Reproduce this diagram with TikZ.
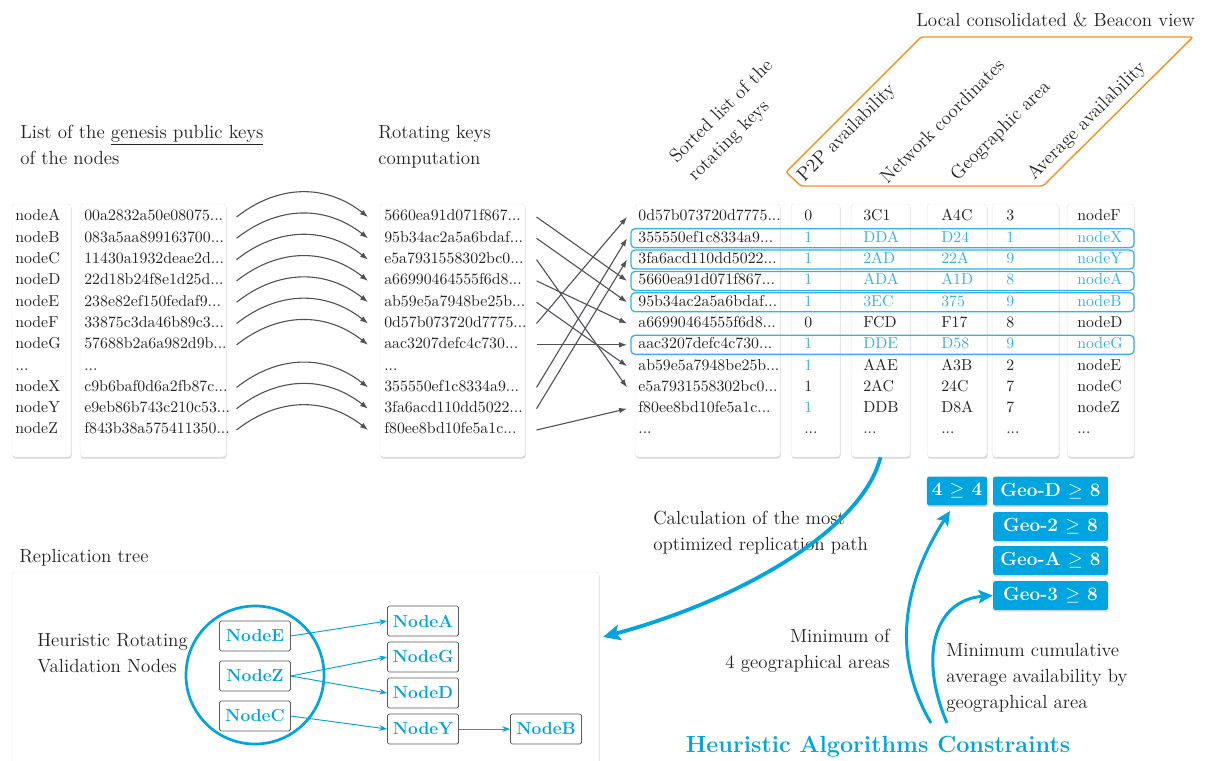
\documentclass[tikz,border=0pt]{standalone}
\usetikzlibrary{arrows.meta,shadows,fit,calc}
\definecolor{myblue}{RGB}{0,164,222}
\definecolor{lblue}{RGB}{52,178,230}
\definecolor{txt}{RGB}{35,35,35}
\definecolor{agray}{RGB}{80,82,88}
\definecolor{orng}{RGB}{245,146,32}
\newcommand{\tdots}{...}
\begin{document}
\begin{tikzpicture}[x=0.6325pt,y=-0.6325pt,
  panel/.style={fill=white, draw=black!10, line width=0.3pt, rounded corners=2pt, inner sep=0pt,
     drop shadow={shadow xshift=0.4pt, shadow yshift=-1pt, opacity=0.28, fill=black!60}},
  lt/.style={font=\fontsize{10}{12}\selectfont, text=txt, inner sep=0pt, anchor=west, text height=7pt, text depth=2pt},
  gk/.style={lt, text width=96.1pt},
  rk/.style={lt, inner xsep=10.1pt, text width=86pt},
  sk/.style={lt, inner xsep=7pt, text width=82pt},
  head/.style={font=\fontsize{12}{16.4}\selectfont, text=txt, inner sep=0pt, align=left},
  garrow/.style={draw=agray, line width=0.7pt, -{Latex[length=5pt,width=3.6pt]}},
  hl/.style={draw=lblue, line width=0.8pt, rounded corners=2.5pt},
  bbox/.style={fill=myblue, text=white, font=\fontsize{12}{14}\bfseries\selectfont, rounded corners=1.5pt, inner sep=0pt, minimum height=18.3pt,
     drop shadow={shadow xshift=0.4pt, shadow yshift=-1pt, opacity=0.25, fill=black!60}},
  rnode/.style={draw=black!65, line width=0.5pt, rounded corners=1pt, fill=white, text=myblue, font=\fontsize{11}{13}\bfseries\selectfont, minimum width=44.9pt, minimum height=19pt, inner sep=0pt},
  tarrow/.style={draw=myblue, line width=0.6pt, -{Stealth[length=5pt,width=3.6pt]}},
  barrow/.style={draw=myblue, line width=2.4pt, -{Stealth[length=11pt,width=10pt,inset=2.5pt]}},
  uarrow/.style={draw=myblue, line width=1.9pt, -{Stealth[length=9pt,width=8.5pt,inset=2pt]}},
]
\useasboundingbox (0,0) rectangle (1207,760);
\clip (0,0) rectangle (1207,760);

% panels
\node[panel, fit={(12,204) (71,457)}] (pnames) {};
\node[panel, fit={(80,204) (226,457)}] (pgen) {};
\node[panel, fit={(380,204) (525,457)}] (prot) {};
\node[panel, fit={(635,204) (780,457)}] (psort) {};
\node[panel, fit={(791,204) (840,457)}] (pp2p) {};
\node[panel, fit={(851,204) (910,457)}] (pnet) {};
\node[panel, fit={(927,204) (987,457)}] (pgeo) {};
\node[panel, fit={(992,204) (1059,457)}] (pavg) {};
\node[panel, fit={(1067,204) (1134,457)}] (pnod) {};
\node[panel, fit={(12,572) (599,800)}] (ptree) {};

% headings
\node[head, anchor=west] (h1) at (20,145) {List of the \underline{genesis public keys}\\of the nodes};
\node[head, anchor=west] (h2) at (378,147) {Rotating keys\\computation};
\node[head, anchor=west] (h3) at (916,20) {Local consolidated \& Beacon view};
\node[head, rotate=45, anchor=center] (h4) at (731,121) {Sorted list of the\\rotating keys};
\node[head, rotate=45, anchor=center] (c1) at (847,133) {P2P availability};
\node[head, rotate=45, anchor=center] (c2) at (942,121) {Network coordinates};
\node[head, rotate=45, anchor=center] (c3) at (1001,131) {Geographic area};
\node[head, rotate=45, anchor=center] (c4) at (1087,121) {Average availability};
\draw[orng, line width=0.9pt, rounded corners=1.5pt] (921,37) -- (1193,37) -- (1043,186) -- (801,186) -- (786,172) -- cycle;

% highlight boxes
\foreach \i in {1,2,3,4,6}
  \draw[hl] (631,{217+21.3*\i-9.5}) rectangle (1134,{217+21.3*\i+9.5});

% lists
\foreach \t [count=\i from 0] in {nodeA,nodeB,nodeC,nodeD,nodeE,nodeF,nodeG,\tdots,nodeX,nodeY,nodeZ}
  \node[lt] (n\i) at (15,{217+21.3*\i}) {\t};
\foreach \t [count=\i from 0] in {00a2832a50e08075\tdots,083a5aa899163700\tdots,11430a1932deae2d\tdots,22d18b24f8e1d25d\tdots,238e82ef150fedaf9\tdots,33875c3da46b89c3\tdots,57688b2a6a982d9b\tdots,\tdots,c9b6baf0d6a2fb87c\tdots,e9eb86b743c210c53\tdots,f843b38a575411350\tdots}
  \node[gk] (g\i) at (84,{217+21.3*\i}) {\t};
\foreach \t [count=\i from 0] in {5660ea91d071f867\tdots,95b34ac2a5a6bdaf\tdots,e5a7931558302bc0\tdots,a66990464555f6d8\tdots,ab59e5a7948be25b\tdots,0d57b073720d7775\tdots,aac3207defc4c730\tdots,\tdots,355550ef1c8334a9\tdots,3fa6acd110dd5022\tdots,f80ee8bd10fe5a1c\tdots}
  \node[rk] (r\i) at (368,{217+21.3*\i}) {\t};
\foreach \t [count=\i from 0] in {0d57b073720d7775\tdots,355550ef1c8334a9\tdots,3fa6acd110dd5022\tdots,5660ea91d071f867\tdots,95b34ac2a5a6bdaf\tdots,a66990464555f6d8\tdots,aac3207defc4c730\tdots,ab59e5a7948be25b\tdots,e5a7931558302bc0\tdots,f80ee8bd10fe5a1c\tdots,\tdots}
  \node[sk] (s\i) at (627,{217+21.3*\i}) {\t};

\foreach \t/\c [count=\i from 0] in {0/txt,1/lblue,1/lblue,1/lblue,1/lblue,0/txt,1/lblue,1/lblue,1/txt,1/lblue,\tdots/txt}
  \node[lt, text=\c] (ca\i) at (804,{217+21.3*\i}) {\t};
\foreach \t/\c [count=\i from 0] in {3C1/txt,DDA/lblue,2AD/lblue,ADA/lblue,3EC/lblue,FCD/txt,DDE/lblue,AAE/txt,2AC/txt,DDB/txt,\tdots/txt}
  \node[lt, text=\c] (cb\i) at (863,{217+21.3*\i}) {\t};
\foreach \t/\c [count=\i from 0] in {A4C/txt,D24/lblue,22A/lblue,A1D/lblue,375/lblue,F17/txt,D58/lblue,A3B/txt,24C/txt,D8A/txt,\tdots/txt}
  \node[lt, text=\c] (cc\i) at (941,{217+21.3*\i}) {\t};
\foreach \t/\c [count=\i from 0] in {3/txt,1/lblue,9/lblue,8/lblue,9/lblue,8/txt,9/lblue,2/txt,7/txt,7/txt,\tdots/txt}
  \node[lt, text=\c] (cd\i) at (1006,{217+21.3*\i}) {\t};
\foreach \t/\c [count=\i from 0] in {nodeF/txt,nodeX/lblue,nodeY/lblue,nodeA/lblue,nodeB/lblue,nodeD/txt,nodeG/lblue,nodeE/txt,nodeC/txt,nodeZ/txt,\tdots/txt}
  \node[lt, text=\c] (ce\i) at (1077,{217+21.3*\i}) {\t};

% arcs genesis -> rotating
\foreach \i in {0,1,2,3,4,5,6,8,9,10}
  \draw[garrow] (g\i.east) .. controls +(42,-33) and +(-42,-33) .. (r\i.west);

% rotating -> sorted
\foreach \a/\b in {0/3,1/4,2/8,3/5,4/7,5/0,6/6,8/1,9/2,10/9}
  \draw[garrow] (r\a.east) -- (s\b.west);

% constraint boxes
\node[bbox, minimum width=38pt] (c44) at (957,491) {4 $\geq$ 4};
\node[bbox, minimum width=72.7pt] (gD) at (1050.5,491) {Geo-D $\geq$ 8};
\node[bbox, minimum width=72.7pt] (g2) at (1050.5,526.5) {Geo-2 $\geq$ 8};
\node[bbox, minimum width=72.7pt] (gA) at (1050.5,560.5) {Geo-A $\geq$ 8};
\node[bbox, minimum width=72.7pt] (g3) at (1050.5,595.5) {Geo-3 $\geq$ 8};

% texts bottom right
\node[head, anchor=west] (calc) at (653,533) {Calculation of the most\\optimized replication path};
\node[head, anchor=east, align=right] (min4) at (890,651) {Minimum of\\4 geographical areas};
\node[head, anchor=west] (mincum) at (946,678) {Minimum cumulative\\average availability by\\geographical area};
\node[font=\fontsize{14.8}{17}\bfseries\selectfont, text=myblue, inner sep=0pt] (hac) at (878,747) {Heuristic Algorithms Constraints};

% replication tree
\node[head, anchor=west] (rt) at (19,558) {Replication tree};
\node[head, anchor=west] (hrv) at (37,653) {Heuristic Rotating\\Validation Nodes};
\node[draw=myblue, line width=1.7pt, circle, minimum size=87.3pt, inner sep=0pt] (circ) at (255,675) {};
\node[rnode] (nE) at (255,636) {NodeE};
\node[rnode] (nZ) at (255,676) {NodeZ};
\node[rnode] (nC) at (255,716) {NodeC};
\node[rnode] (nA) at (423,621) {NodeA};
\node[rnode] (nG) at (423,657) {NodeG};
\node[rnode] (nD) at (423,693) {NodeD};
\node[rnode] (nY) at (423,729) {NodeY};
\node[rnode] (nB) at (546,729) {NodeB};
\draw[tarrow] (nE.east) -- (nA.west);
\draw[tarrow] (nZ.east) -- (nG.west);
\draw[tarrow] (nZ.east) -- (nD.west);
\draw[tarrow] (nC.east) -- (nY.west);
\draw[tarrow] (nY.east) -- (nB.west);

% big arrows
\coordinate (tin) at (603,637);
\draw[barrow] (pnet.south) .. controls (862,530) and (740,600) .. (tin);
\coordinate (u1) at (931,723);
\coordinate (u2) at (947,723);
\coordinate (t1) at (950,511);
\draw[uarrow] (u1) .. controls (885,645) and (912,570) .. (t1);
\draw[uarrow] (u2) .. controls (918,655) and (935,600) .. (g3.west);
\end{tikzpicture}
\end{document}
